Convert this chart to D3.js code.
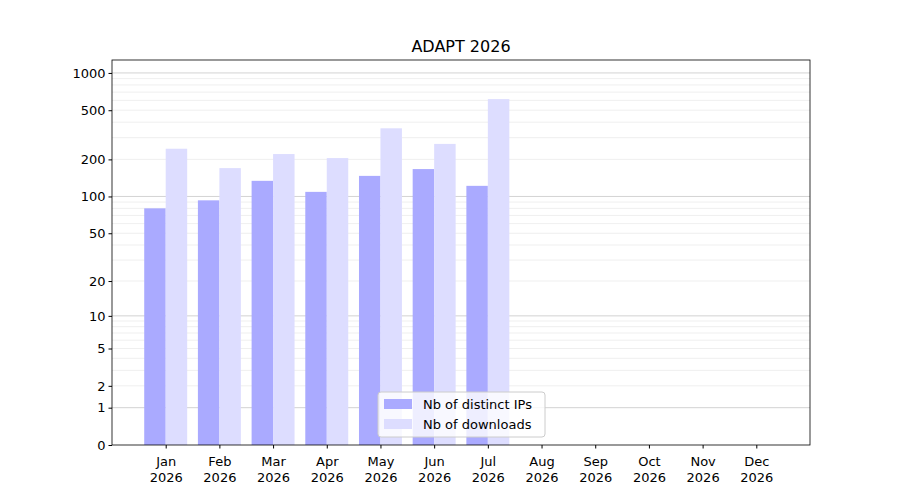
<!DOCTYPE html>
<html>
<head>
<meta charset="utf-8">
<script src="https://cdn.jsdelivr.net/npm/d3@7"></script>
<style>
  body { margin: 0; background: #fff; }
  text { font-family: "DejaVu Sans", sans-serif; }
</style>
</head>
<body>
<div id="chart"></div>
<script>
const months = ['Jan', 'Feb', 'Mar', 'Apr', 'May', 'Jun', 'Jul', 'Aug', 'Sep', 'Oct', 'Nov', 'Dec'];
const year = '2026';
const distinctIps = [80, 93, 134, 109, 147, 167, 122];
const downloads = [244, 170, 221, 205, 357, 267, 615];
const yTicks = [0, 1, 2, 5, 10, 20, 50, 100, 200, 500, 1000];

const width = 900, height = 500;
const margin = { top: 60, right: 90, bottom: 55, left: 112 };

const svg = d3.select('#chart').append('svg')
  .attr('width', width).attr('height', height);

const x = d3.scaleLinear().domain([-1, 12]).range([margin.left, width - margin.right]);
const y = d3.scaleSymlog().constant(1).domain([0, 1272]).range([height - margin.bottom, margin.top]);

// minor grid
const minor = [];
[1, 10, 100, 1000].forEach(d => { for (let k = 2; k <= 9; k++) if (d * k < 1272) minor.push(d * k); });
svg.append('g').selectAll('line').data(minor).join('line')
  .attr('x1', margin.left).attr('x2', width - margin.right)
  .attr('y1', d => y(d)).attr('y2', d => y(d))
  .attr('stroke', '#ebebeb').attr('stroke-width', 0.8);
svg.append('g').selectAll('line').data([1, 10, 100, 1000]).join('line')
  .attr('x1', margin.left).attr('x2', width - margin.right)
  .attr('y1', d => y(d)).attr('y2', d => y(d))
  .attr('stroke', '#c8c8c8').attr('stroke-width', 0.8);

const bw = 0.4;
svg.append('g').selectAll('rect').data(distinctIps).join('rect')
  .attr('x', (d, i) => x(i - bw)).attr('width', x(bw) - x(0))
  .attr('y', d => y(d)).attr('height', d => y(0) - y(d))
  .attr('fill', '#aaaaff');
svg.append('g').selectAll('rect').data(downloads).join('rect')
  .attr('x', (d, i) => x(i)).attr('width', x(bw) - x(0))
  .attr('y', d => y(d)).attr('height', d => y(0) - y(d))
  .attr('fill', '#ddddff');

svg.append('rect')
  .attr('x', margin.left).attr('y', margin.top)
  .attr('width', width - margin.left - margin.right)
  .attr('height', height - margin.top - margin.bottom)
  .attr('fill', 'none').attr('stroke', '#000').attr('stroke-width', 0.8);

const yAxis = svg.append('g').attr('transform', `translate(${margin.left},0)`)
  .call(d3.axisLeft(y).tickValues(yTicks).tickFormat(d3.format('d')).tickSizeOuter(0).tickSize(3.5));
yAxis.select('.domain').remove();
yAxis.selectAll('text').attr('font-size', 13).attr('fill', '#000');

const xAxis = svg.append('g').attr('transform', `translate(0,${height - margin.bottom})`)
  .call(d3.axisBottom(x).tickValues(d3.range(12)).tickFormat('').tickSize(3.5));
xAxis.select('.domain').remove();
xAxis.selectAll('.tick').each(function(d) {
  const t = d3.select(this).append('text').attr('fill', '#000').attr('font-size', 13)
    .attr('text-anchor', 'middle');
  t.append('tspan').attr('x', 0).attr('y', 21).text(months[d]);
  t.append('tspan').attr('x', 0).attr('y', 37).text(year);
});

svg.append('text').attr('x', (margin.left + width - margin.right) / 2).attr('y', 52)
  .attr('text-anchor', 'middle').attr('font-size', 16).text('ADAPT 2026');

// legend
const lg = svg.append('g').attr('transform', 'translate(378,392)');
lg.append('rect').attr('width', 167).attr('height', 45).attr('rx', 3)
  .attr('fill', '#fff').attr('fill-opacity', 0.8).attr('stroke', '#ccc');
[['Nb of distinct IPs', '#aaaaff'], ['Nb of downloads', '#ddddff']].forEach(([label, c], i) => {
  lg.append('rect').attr('x', 6).attr('y', 7 + i * 20).attr('width', 28).attr('height', 10).attr('fill', c);
  lg.append('text').attr('x', 45).attr('y', 17 + i * 20).attr('font-size', 13).text(label);
});
</script>
</body>
</html>
